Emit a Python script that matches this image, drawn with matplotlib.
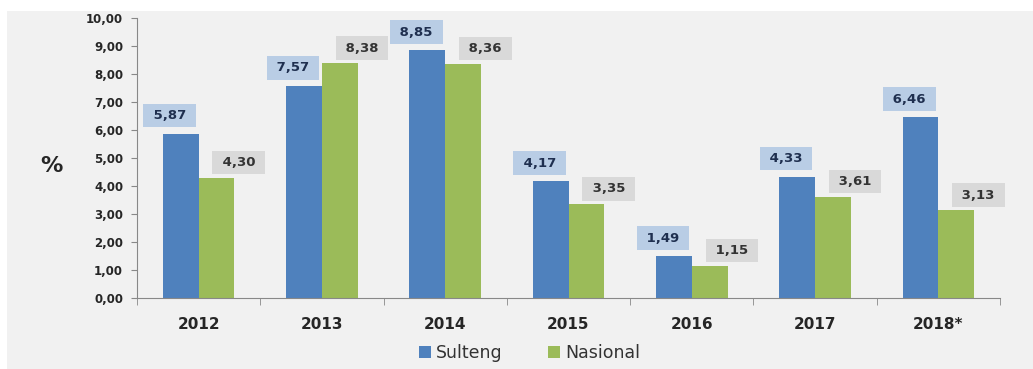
import matplotlib
matplotlib.use("Agg")
import matplotlib.pyplot as plt
import numpy as np
from matplotlib.patches import Rectangle
from matplotlib.ticker import FixedLocator

years = ["2012", "2013", "2014", "2015", "2016", "2017", "2018*"]
sulteng = [5.87, 7.57, 8.85, 4.17, 1.49, 4.33, 6.46]
nasional = [4.30, 8.38, 8.36, 3.35, 1.15, 3.61, 3.13]
yticks = [0, 1, 2, 3, 4, 5, 6, 7, 8, 9, 10]

def fmt(v):
    return f"{v:.2f}".replace(".", ",")

W, H = 1033, 369
fig = plt.figure(figsize=(W / 100, H / 100), dpi=100)
bg = "#f1f1f1"
fig.patch.set_facecolor("white")
fig.patches.append(Rectangle((7 / W, 0), 1 - 7 / W, 1 - 11 / H, transform=fig.transFigure,
                             facecolor=bg, edgecolor="none", zorder=-10))

ax = fig.add_axes([137 / W, 1 - 298 / H, (1000 - 137) / W, (298 - 18) / H])
ax.set_facecolor(bg)

blue = "#4f81bd"
green = "#9bbb59"
x = np.arange(len(years))
bw = 0.29
b1 = ax.bar(x - bw / 2, sulteng, bw, color=blue, label="Sulteng", zorder=2)
b2 = ax.bar(x + bw / 2, nasional, bw, color=green, label="Nasional", zorder=2)

for xi, v in zip(x, sulteng):
    ax.annotate(" " + fmt(v) + " ", (xi - bw / 2, v), xytext=(-8, 13), textcoords="offset points",
                ha="center", va="center", fontsize=9.5, fontweight="bold", color="#1f2f4f",
                bbox=dict(boxstyle="square,pad=0.4", facecolor="#b9cde5", edgecolor="none"),
                zorder=3)
for xi, v in zip(x, nasional):
    ax.annotate(" " + fmt(v) + " ", (xi + bw / 2, v), xytext=(16, 11), textcoords="offset points",
                ha="center", va="center", fontsize=9.5, fontweight="bold", color="#333333",
                bbox=dict(boxstyle="square,pad=0.4", facecolor="#d9d9d9", edgecolor="none"),
                zorder=3)

ax.set_xlim(-0.5, len(years) - 0.5)
ax.set_ylim(0, 10)
ax.set_yticks(yticks)
ax.set_yticklabels([fmt(t) for t in yticks], fontsize=8.5, fontweight="bold", color="#262626")
ax.set_xticks(x)
ax.set_xticklabels(years, fontsize=11, fontweight="bold", color="#262626")
ax.xaxis.set_minor_locator(FixedLocator(np.arange(-0.5, len(years), 1.0)))
ax.tick_params(axis="x", which="major", length=0, pad=14)
ax.tick_params(axis="x", which="minor", length=5, direction="out", color="#888888")
ax.tick_params(axis="y", length=4, color="#888888", pad=6)
for s in ["top", "right"]:
    ax.spines[s].set_visible(False)
ax.spines["left"].set_color("#888888")
ax.spines["bottom"].set_color("#888888")

fig.text(40 / W, 1 - 166 / H, "%", fontsize=16, fontweight="bold", color="#262626",
         ha="left", va="center")

leg = fig.legend(handles=[b1, b2], loc="lower left", bbox_to_anchor=(410 / W, -2 / H),
                 ncol=2, frameon=False, fontsize=12.5, handlelength=0.7, handleheight=0.7,
                 handletextpad=0.3, columnspacing=2.6, borderpad=0.0)
for t in leg.get_texts():
    t.set_color("#333333")

fig.savefig("out.png", dpi=100, facecolor=fig.get_facecolor())
